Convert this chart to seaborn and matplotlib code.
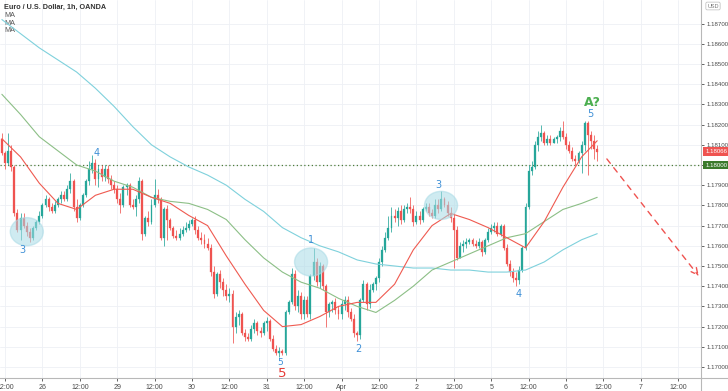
#!/usr/bin/env python
# -*- coding: utf-8 -*-

"""EUR/USD 1h candlestick chart with three moving averages and wave labels."""

import numpy as np
import pandas as pd
import matplotlib
matplotlib.use('Agg')
import matplotlib.pyplot as plt
import matplotlib.transforms as mtransforms
from matplotlib.patches import Ellipse
from matplotlib.lines import Line2D
import seaborn as sns

# --- data (hourly candles, Mar 25 11:00 -> Apr 6 ~10:00) ---
first_open = 1.1813

closes = [
    1.1806, 1.1801, 1.1807, 1.1799, 1.1776, 1.1768, 1.1774, 1.1770, 1.1767, 1.1764,
    1.1769, 1.1772, 1.1775, 1.1780, 1.1783, 1.1779, 1.1777, 1.1780, 1.1783, 1.1785,
    1.1783, 1.1788, 1.1792, 1.1779, 1.1774, 1.1780, 1.1785, 1.1792, 1.1798, 1.1801,
    1.1793, 1.1798, 1.1794, 1.1798, 1.1793, 1.1790, 1.1788, 1.1783, 1.1780, 1.1789,
    1.1790, 1.1780, 1.1779, 1.1783, 1.1792, 1.1766, 1.1774, 1.1772, 1.1780, 1.1785,
    1.1783, 1.1764, 1.1778, 1.1773, 1.1769, 1.1765, 1.1764, 1.1766, 1.1768, 1.1769,
    1.1771, 1.1773, 1.1768, 1.1764, 1.1763, 1.1761, 1.1759, 1.1747, 1.1736, 1.1746,
    1.1742, 1.1738, 1.1735, 1.1736, 1.1720, 1.1725, 1.1726, 1.1717, 1.1715, 1.1714,
    1.1719, 1.1722, 1.1718, 1.1717, 1.1722, 1.1723, 1.1714, 1.1709, 1.1707, 1.1708,
    1.1707, 1.1727, 1.1732, 1.1746, 1.1730, 1.1735, 1.1726, 1.1733, 1.1726, 1.1745,
    1.1752, 1.1742, 1.1750, 1.1740, 1.1727, 1.1731, 1.1732, 1.1728, 1.1726, 1.1731,
    1.1733, 1.1727, 1.1724, 1.1717, 1.1716, 1.1733, 1.1741, 1.1731, 1.1738, 1.1741,
    1.1744, 1.1752, 1.1758, 1.1764, 1.1769, 1.1775, 1.1774, 1.1777, 1.1773, 1.1778,
    1.1779, 1.1778, 1.1772, 1.1775, 1.1773, 1.1778, 1.1779, 1.1776, 1.1775, 1.1780,
    1.1778, 1.1783, 1.1780, 1.1776, 1.1774, 1.1768, 1.1754, 1.1760, 1.1761, 1.1762,
    1.1763, 1.1761, 1.1760, 1.1762, 1.1757, 1.1763, 1.1767, 1.1769, 1.1770, 1.1766,
    1.1770, 1.1759, 1.1751, 1.1747, 1.1744, 1.1743, 1.1748, 1.1759, 1.1779, 1.1797,
    1.1799, 1.1810, 1.1814, 1.1816, 1.1811, 1.1813, 1.1811, 1.1813, 1.1814, 1.1817,
    1.1814, 1.1810, 1.1807, 1.1803, 1.1802, 1.1806, 1.1810, 1.1821, 1.1815, 1.1812,
    1.1808, 1.18066,
]

highs = [
    1.1816, 1.1807, 1.1816, 1.1810, 1.1800, 1.1778, 1.1776, 1.1776, 1.1772, 1.1769,
    1.1770, 1.1773, 1.1777, 1.1781, 1.1785, 1.1784, 1.1781, 1.1782, 1.1784, 1.1787,
    1.1787, 1.1790, 1.1796, 1.1793, 1.1783, 1.1781, 1.1786, 1.1793, 1.1802, 1.1805,
    1.1803, 1.1800, 1.1800, 1.1800, 1.1800, 1.1795, 1.1792, 1.1790, 1.1786, 1.1790,
    1.1791, 1.1791, 1.1783, 1.1785, 1.1794, 1.1793, 1.1775, 1.1777, 1.1783, 1.1793,
    1.1788, 1.1784, 1.1779, 1.1780, 1.1774, 1.1770, 1.1768, 1.1769, 1.1770, 1.1772,
    1.1773, 1.1774, 1.1775, 1.1770, 1.1767, 1.1766, 1.1764, 1.1761, 1.1750, 1.1747,
    1.1748, 1.1744, 1.1741, 1.1739, 1.1738, 1.1727, 1.1728, 1.1727, 1.1719, 1.1717,
    1.1721, 1.1724, 1.1723, 1.1720, 1.1723, 1.1725, 1.1724, 1.1716, 1.1711, 1.1710,
    1.1709, 1.1728, 1.1733, 1.1749, 1.1748, 1.1738, 1.1737, 1.1735, 1.1735, 1.1746,
    1.1759, 1.1754, 1.1752, 1.1751, 1.1741, 1.1732, 1.1733, 1.1734, 1.1730, 1.1733,
    1.1735, 1.1735, 1.1729, 1.1726, 1.1718, 1.1734, 1.1743, 1.1742, 1.1741, 1.1742,
    1.1745, 1.1754, 1.1760, 1.1767, 1.1775, 1.1779, 1.1778, 1.1779, 1.1780, 1.1780,
    1.1781, 1.1784, 1.1780, 1.1777, 1.1777, 1.1779, 1.1781, 1.1781, 1.1778, 1.1783,
    1.1783, 1.1787, 1.1784, 1.1782, 1.1779, 1.1776, 1.1770, 1.1762, 1.1763, 1.1764,
    1.1764, 1.1764, 1.1763, 1.1764, 1.1763, 1.1764, 1.1769, 1.1771, 1.1772, 1.1772,
    1.1771, 1.1771, 1.1761, 1.1753, 1.1749, 1.1747, 1.1750, 1.1760, 1.1781, 1.1800,
    1.1802, 1.1812, 1.1817, 1.1820, 1.1817, 1.1815, 1.1815, 1.1814, 1.1815, 1.1819,
    1.1822, 1.1816, 1.1812, 1.1809, 1.1805, 1.1807, 1.1812, 1.1822, 1.1822, 1.1817,
    1.1815, 1.1810,
]

lows = [
    1.1805, 1.1798, 1.1800, 1.1797, 1.1775, 1.1767, 1.1763, 1.1769, 1.1765, 1.1762,
    1.1763, 1.1768, 1.1771, 1.1774, 1.1779, 1.1777, 1.1776, 1.1776, 1.1779, 1.1781,
    1.1782, 1.1782, 1.1786, 1.1777, 1.1772, 1.1773, 1.1779, 1.1784, 1.1790, 1.1796,
    1.1790, 1.1789, 1.1792, 1.1792, 1.1791, 1.1788, 1.1786, 1.1781, 1.1776, 1.1779,
    1.1785, 1.1779, 1.1778, 1.1775, 1.1781, 1.1763, 1.1765, 1.1770, 1.1771, 1.1779,
    1.1781, 1.1763, 1.1760, 1.1763, 1.1768, 1.1764, 1.1763, 1.1763, 1.1765, 1.1767,
    1.1768, 1.1770, 1.1766, 1.1763, 1.1761, 1.1759, 1.1758, 1.1745, 1.1734, 1.1735,
    1.1739, 1.1735, 1.1733, 1.1732, 1.1712, 1.1717, 1.1721, 1.1716, 1.1713, 1.1713,
    1.1713, 1.1717, 1.1716, 1.1715, 1.1716, 1.1718, 1.1713, 1.1708, 1.1706, 1.1705,
    1.1706, 1.1706, 1.1726, 1.1731, 1.1728, 1.1727, 1.1724, 1.1724, 1.1725, 1.1724,
    1.1743, 1.1740, 1.1739, 1.1738, 1.1720, 1.1725, 1.1727, 1.1726, 1.1724, 1.1724,
    1.1728, 1.1725, 1.1723, 1.1715, 1.1713, 1.1714, 1.1732, 1.1728, 1.1729, 1.1737,
    1.1738, 1.1742, 1.1750, 1.1757, 1.1763, 1.1767, 1.1772, 1.1770, 1.1771, 1.1772,
    1.1776, 1.1776, 1.1770, 1.1771, 1.1771, 1.1772, 1.1777, 1.1775, 1.1774, 1.1774,
    1.1776, 1.1777, 1.1779, 1.1775, 1.1772, 1.1749, 1.1753, 1.1754, 1.1757, 1.1759,
    1.1761, 1.1760, 1.1759, 1.1759, 1.1755, 1.1756, 1.1762, 1.1766, 1.1767, 1.1765,
    1.1765, 1.1758, 1.1750, 1.1745, 1.1742, 1.1740, 1.1741, 1.1747, 1.1758, 1.1778,
    1.1795, 1.1798, 1.1807, 1.1812, 1.1810, 1.1810, 1.1810, 1.1811, 1.1811, 1.1812,
    1.1813, 1.1808, 1.1806, 1.1802, 1.1800, 1.1801, 1.1796, 1.1807, 1.1795, 1.1808,
    1.1803, 1.1802,
]

# moving averages, read every 6 candles
ma_idx = list(range(0, 187, 6)) + [191]
ma_fast = [
    1.1813, 1.1804, 1.1791, 1.1781, 1.1778, 1.1785, 1.1788, 1.1788, 1.1784, 1.1781,
    1.1775, 1.1770, 1.1755, 1.1741, 1.1728, 1.1720, 1.1721, 1.1725, 1.1730, 1.1732,
    1.1732, 1.1741, 1.1758, 1.1770, 1.1776, 1.1773, 1.1769, 1.1764, 1.1759, 1.1772,
    1.1789, 1.1804, 1.1812,
]
ma_mid = [
    1.1835, 1.1825, 1.1814, 1.1807, 1.1800, 1.1797, 1.1792, 1.1789, 1.1784, 1.1782,
    1.1781, 1.1778, 1.1773, 1.1763, 1.1754, 1.1747, 1.1742, 1.1739, 1.1734, 1.1730,
    1.1727, 1.1733, 1.1740, 1.1748, 1.1752, 1.1756, 1.1760, 1.1764, 1.1766, 1.1772,
    1.1778, 1.1781, 1.1784,
]
ma_slow = [
    1.1872, 1.1865, 1.1858, 1.1852, 1.1846, 1.1838, 1.1829, 1.1819, 1.1810, 1.1804,
    1.1799, 1.1795, 1.1790, 1.1783, 1.1777, 1.1769, 1.1764, 1.1760, 1.1757, 1.1753,
    1.1751, 1.1750, 1.1749, 1.1749, 1.1748, 1.1748, 1.1747, 1.1747, 1.1748, 1.1752,
    1.1758, 1.1763, 1.1766,
]

xtick_pos = list(range(1, 218, 12))
xtick_labels = ['12:00', '26', '12:00', '29', '12:00', '30', '12:00', '31', '12:00',
                'Apr', '12:00', '2', '12:00', '5', '12:00', '6', '12:00', '7', '12:00']
ytick_vals = [1.170, 1.171, 1.172, 1.173, 1.174, 1.175, 1.176, 1.177, 1.178,
              1.179, 1.180, 1.181, 1.182, 1.183, 1.184, 1.185, 1.186, 1.187]

# wave labels: (text, candle index, price, colour, size)
wave_labels = [
    ('3', 6.5, 1.1758, '#3d8fd6', 7),
    ('4', 30.5, 1.1806, '#3d8fd6', 7),
    ('1', 99.2, 1.1763, '#3d8fd6', 7),
    ('5', 89.2, 1.1702, '#3d8fd6', 6.5),
    ('5', 89.9, 1.1697, '#e53935', 9.5),
    ('2', 114.3, 1.1709, '#3d8fd6', 7),
    ('3', 140.2, 1.1790, '#3d8fd6', 7),
    ('4', 165.9, 1.1736, '#3d8fd6', 7),
    ('5', 188.7, 1.1825, '#3d8fd6', 7),
    ('A?', 189.6, 1.1831, '#4caf50', 9),
]
highlight_centers = [(8.0, 1.1767), (99.2, 1.1752), (140.9, 1.1780)]
projection = [(194.1, 1.1803), (223.6, 1.1745)]
last_price = 1.18066
level_price = 1.18000

GREEN = '#26a69a'
RED = '#ef5350'
AXIS_FONT = ['Liberation Sans', 'DejaVu Sans']

df = pd.DataFrame({'close': closes, 'high': highs, 'low': lows})
df['open'] = [first_open] + closes[:-1]
df['high'] = df[['high', 'open', 'close']].max(axis=1)
df['low'] = df[['low', 'open', 'close']].min(axis=1)
df['up'] = df['close'] >= df['open']
df['idx'] = np.arange(len(df))

ma_df = pd.DataFrame({'idx': ma_idx, 'fast': ma_fast, 'mid': ma_mid, 'slow': ma_slow})

sns.set_theme(style='white')
plt.rcParams['font.family'] = AXIS_FONT

fig = plt.figure(figsize=(7.28, 3.91), dpi=100)
ax = fig.add_axes([0, 13 / 391, 701 / 728, 378 / 391])

ax.set_xlim(-0.6, 224.3)
ax.set_ylim(1.169456, 1.188168)

# grid
ax.set_xticks(xtick_pos)
ax.set_xticklabels(xtick_labels)
ax.set_yticks(ytick_vals)
ax.yaxis.set_major_formatter(matplotlib.ticker.FuncFormatter(lambda v, p: f'{v:.5f}'))
ax.grid(True, color='#eef0f5', lw=0.6, zorder=0)
ax.set_axisbelow(True)

# candles
colors = np.where(df['up'], GREEN, RED)
ax.vlines(df['idx'], df['low'], df['high'], colors=colors, lw=0.55, zorder=2)
body_bottom = df[['open', 'close']].min(axis=1)
body_height = (df['close'] - df['open']).abs().clip(lower=0.00003)
ax.bar(df['idx'], body_height, bottom=body_bottom, width=0.62, color=colors,
       edgecolor=colors, linewidth=0.2, zorder=3)

# moving averages
sns.lineplot(data=ma_df, x='idx', y='slow', ax=ax, color='#7fd1dc', lw=0.8, zorder=4)
sns.lineplot(data=ma_df, x='idx', y='mid', ax=ax, color='#8cbf86', lw=0.8, zorder=4)
sns.lineplot(data=ma_df, x='idx', y='fast', ax=ax, color='#ef5a50', lw=0.8, zorder=4)
ax.set_xlabel('')
ax.set_ylabel('')

# level line
ax.axhline(level_price, color='#4e7d3a', ls=(0, (1, 2)), lw=0.9, zorder=1)

# highlight ellipses
for cx, cy in highlight_centers:
    ax.add_patch(Ellipse((cx, cy), width=10.6, height=0.00139, facecolor='#a9dbe6',
                         edgecolor='#a9dbe6', alpha=0.55, zorder=5))

for text, x, y, col, size in wave_labels:
    ax.text(x, y, text, color=col, fontsize=size, ha='center', va='center',
            family=['DejaVu Sans'],
            fontweight='bold' if text == 'A?' else 'normal', zorder=6)

# projected move
ax.annotate('', xy=projection[1], xytext=projection[0],
            arrowprops=dict(arrowstyle='->', color=RED, lw=1.0, ls=(0, (4, 4)),
                            shrinkA=0, shrinkB=0), zorder=6)

# axes styling
ax.yaxis.tick_right()
ax.tick_params(axis='y', labelsize=4.4, colors='#4a4a4a', length=2.5, width=0.6,
               pad=1.5, direction='out', right=True, left=False)
ax.tick_params(axis='x', labelsize=5, colors='#4a4a4a', length=2.5, width=0.6,
               pad=2, direction='out', bottom=True)
for name, spine in ax.spines.items():
    spine.set_visible(name in ('right', 'bottom'))
    spine.set_color('#b8b8b8')
    spine.set_linewidth(0.8)

fig.add_artist(Line2D([701 / 728, 701 / 728], [0, 13 / 391], color='#b8b8b8', lw=0.8))
fig.add_artist(Line2D([701 / 728, 1], [13 / 391, 13 / 391], color='#b8b8b8', lw=0.8))

# price tags on the axis
trans = mtransforms.blended_transform_factory(ax.transAxes, ax.transData)
ax.text(1.006, last_price, f'{last_price:.5f}', transform=trans, fontsize=4.4, color='white',
        va='center', ha='left', clip_on=False, zorder=10,
        bbox=dict(boxstyle='square,pad=0.3', fc=RED, ec='none'))
ax.text(1.006, level_price, f'{level_price:.5f}', transform=trans, fontsize=4.4, color='white',
        va='center', ha='left', clip_on=False, zorder=10,
        bbox=dict(boxstyle='square,pad=0.3', fc='#3b7a2c', ec='none'))

# header
ax.text(0.006, 0.981, 'Euro / U.S. Dollar, 1h, OANDA', transform=ax.transAxes,
        fontsize=5.2, color='#333333', fontweight='bold', va='center', ha='left')
for yy in (0.960, 0.939, 0.918):
    ax.text(0.006, yy, 'MA', transform=ax.transAxes, fontsize=5.2, color='#555555',
            va='center', ha='left')

fig.text(713 / 728, 1 - 6 / 391, 'USD', fontsize=4, color='#777777', ha='center', va='center',
         bbox=dict(boxstyle='round,pad=0.25', fc='white', ec='#bbbbbb', lw=0.5), zorder=10)

plt.savefig('out.png', dpi=100)
plt.close(fig)
